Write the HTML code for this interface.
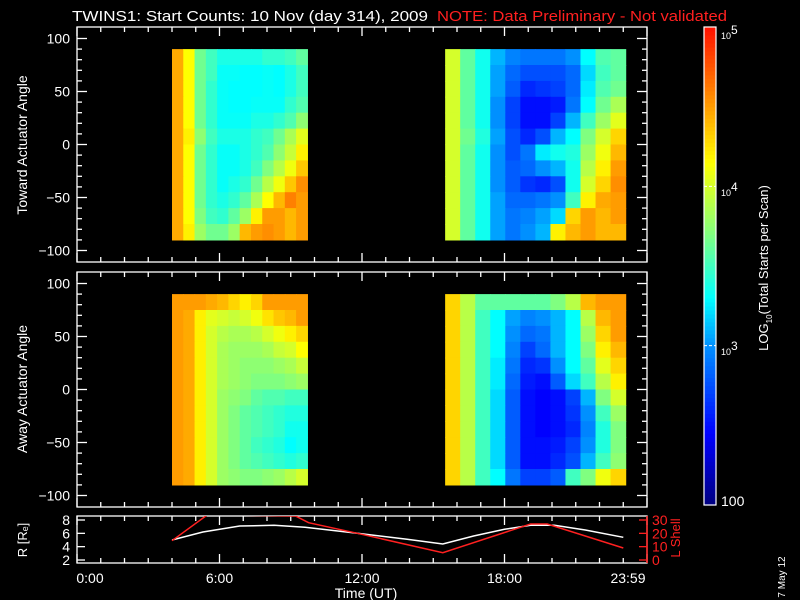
<!DOCTYPE html>
<html><head><meta charset="utf-8"><style>
html,body{margin:0;padding:0;background:#000;width:800px;height:600px;overflow:hidden}
svg{display:block;font-family:"Liberation Sans",sans-serif}
</style></head><body>
<svg id="chart" width="800" height="600" viewBox="0 0 800 600" xmlns="http://www.w3.org/2000/svg">
<rect x="0" y="0" width="800" height="600" fill="#000"/>
<text x="72" y="21" fill="#fff" font-size="14.5" textLength="356" lengthAdjust="spacingAndGlyphs">TWINS1: Start Counts: 10 Nov (day 314), 2009</text>
<text x="437" y="21" fill="#ff2020" font-size="14.5" textLength="290" lengthAdjust="spacingAndGlyphs">NOTE: Data Preliminary - Not validated</text>
<g id="layer"></g>
</svg>
<script>
// ---- data ----
const angleRows = [82.5,67.5,52.5,37.5,22.5,7.5,-7.5,-22.5,-37.5,-52.5,-67.5,-82.5];
const block1Start = 4.0, block1End = 9.7;
const block2Start = 15.5, block2End = 23.1;
const topBlock1 = [
[4.45,4.15,3.65,3.5,3.38,3.38,3.38,3.38,3.45,3.45,3.5,3.6],
[4.45,4.15,3.65,3.5,3.32,3.32,3.3,3.3,3.32,3.3,3.38,3.5],
[4.45,4.15,3.65,3.45,3.32,3.3,3.3,3.3,3.32,3.3,3.38,3.5],
[4.45,4.15,3.65,3.45,3.32,3.3,3.3,3.32,3.32,3.32,3.45,3.55],
[4.45,4.15,3.65,3.45,3.32,3.32,3.32,3.38,3.38,3.45,3.55,3.75],
[4.45,4.2,3.75,3.5,3.38,3.38,3.38,3.45,3.5,3.65,3.85,4.05],
[4.45,4.15,3.65,3.45,3.32,3.32,3.38,3.45,3.55,3.75,3.95,4.2],
[4.45,4.15,3.65,3.45,3.32,3.32,3.38,3.5,3.7,3.9,4.1,4.35],
[4.45,4.15,3.65,3.45,3.32,3.38,3.45,3.65,3.9,4.1,4.35,4.55],
[4.45,4.15,3.65,3.45,3.38,3.45,3.6,3.85,4.15,4.4,4.6,4.5],
[4.45,4.15,3.7,3.5,3.45,3.6,3.8,4.2,4.5,4.5,4.4,4.5],
[4.45,4.2,3.8,3.65,3.65,3.8,4.4,4.5,4.55,4.5,4.4,4.5]];
const topBlock2 = [
[4.0,3.6,3.35,3.1,2.95,2.9,2.9,2.9,3.0,3.3,3.55,3.6],
[4.0,3.6,3.35,3.05,2.85,2.75,2.75,2.75,2.85,3.2,3.5,3.6],
[4.0,3.6,3.35,3.05,2.8,2.6,2.65,2.7,2.85,3.25,3.55,3.65],
[4.0,3.6,3.35,3.0,2.7,2.5,2.5,2.55,2.9,3.3,3.65,3.85],
[4.0,3.6,3.35,3.0,2.7,2.5,2.5,2.7,3.1,3.5,3.8,4.05],
[4.0,3.65,3.4,3.05,2.75,2.6,2.75,3.1,3.3,3.7,4.0,4.3],
[4.0,3.6,3.35,3.0,2.75,2.9,3.25,3.35,3.4,3.8,4.1,4.4],
[4.0,3.6,3.35,3.0,2.8,2.85,3.0,3.1,3.35,3.9,4.2,4.5],
[4.0,3.6,3.35,3.0,2.8,2.65,2.6,2.75,3.35,4.0,4.3,4.55],
[4.0,3.6,3.35,3.05,2.85,2.85,2.9,3.0,3.5,4.2,4.45,4.5],
[4.0,3.6,3.35,3.05,2.9,2.95,3.05,3.2,4.3,4.5,4.4,4.5],
[4.0,3.6,3.35,3.05,2.9,3.0,3.1,4.2,4.4,4.5,4.4,4.4]];
const botBlock1 = [
[4.5,4.5,4.5,4.45,4.4,4.3,4.2,4.3,4.5,4.5,4.5,4.5],
[4.5,4.45,4.2,4.05,4.0,3.95,4.0,4.1,4.25,4.35,4.4,4.5],
[4.5,4.45,4.2,4.0,3.9,3.85,3.85,3.9,4.0,4.1,4.2,4.3],
[4.5,4.45,4.2,4.0,3.85,3.8,3.8,3.8,3.85,3.95,4.0,4.15],
[4.5,4.45,4.2,4.0,3.85,3.8,3.75,3.75,3.75,3.8,3.85,3.95],
[4.5,4.45,4.2,4.0,3.85,3.8,3.75,3.7,3.7,3.7,3.75,3.8],
[4.5,4.45,4.2,4.0,3.8,3.75,3.7,3.6,3.55,3.55,3.5,3.5],
[4.5,4.45,4.2,4.0,3.8,3.7,3.6,3.55,3.5,3.45,3.4,3.4],
[4.5,4.45,4.2,4.0,3.8,3.7,3.6,3.55,3.5,3.45,3.35,3.35],
[4.5,4.45,4.2,4.0,3.8,3.7,3.6,3.5,3.45,3.4,3.3,3.35],
[4.5,4.45,4.2,4.0,3.8,3.7,3.6,3.55,3.5,3.45,3.4,3.45],
[4.5,4.45,4.2,4.0,3.8,3.75,3.7,3.7,3.75,3.8,3.9,4.0]];
const botBlock2 = [
[4.3,3.9,3.6,3.6,3.6,3.6,3.6,3.7,3.9,4.4,4.5,4.5],
[4.3,3.9,3.5,3.3,3.05,2.95,3.0,3.1,3.3,3.9,4.4,4.5],
[4.3,3.9,3.5,3.3,3.0,2.85,2.9,3.1,3.3,3.8,4.3,4.5],
[4.3,3.9,3.5,3.3,2.95,2.7,2.85,3.1,3.3,3.7,4.2,4.4],
[4.3,3.9,3.5,3.25,2.9,2.6,2.65,3.0,3.3,3.6,4.05,4.3],
[4.3,3.9,3.5,3.25,2.85,2.55,2.5,2.8,3.2,3.5,3.9,4.2],
[4.3,3.9,3.5,3.2,2.8,2.5,2.45,2.5,2.7,3.1,3.7,4.0],
[4.3,3.9,3.5,3.2,2.8,2.5,2.45,2.5,2.65,3.0,3.5,3.8],
[4.3,3.9,3.5,3.2,2.8,2.5,2.45,2.5,2.6,2.95,3.4,3.7],
[4.3,3.9,3.5,3.2,2.8,2.5,2.5,2.55,2.7,3.0,3.4,3.7],
[4.3,3.9,3.5,3.2,2.8,2.5,2.5,2.6,2.75,3.1,3.5,3.75],
[4.3,3.9,3.5,3.3,2.9,2.7,2.7,2.8,3.5,3.7,4.1,4.3]];
const orbitTimes = [4.0,5.3,6.85,8.3,9.6,11.8,13.9,15.4,16.7,18.0,19.1,20.1,21.4,23.0];
const orbitR = [5.0,6.2,7.1,7.2,6.9,6.0,5.1,4.4,5.6,6.6,7.2,7.2,6.5,5.4];
const lshellTimes = [4.0,5.5,9.2,9.75,11.8,15.4,19.1,19.8,23.0];
const lshellValues = [14.5,34,33,28,20,5.5,27,27,9];
const angleTicks = [100,50,0,-50,-100];
const timeTickLabels = ["0:00","6:00","12:00","18:00","23:59"];
const timeTickHours = [0,6,12,18,24];
const rTicks = [2,4,6,8];
const lTicks = [0,10,20,30];

// ---- helpers ----
const NS = "http://www.w3.org/2000/svg";
const layer = document.getElementById("layer");
function mk(tag, attrs, parent){ const e=document.createElementNS(NS,tag); for(const k in attrs) e.setAttribute(k,attrs[k]); (parent||layer).appendChild(e); return e; }
const X0=77, X1=647;
function xScale(h){ return X0 + (X1-X0)*h/24; }
function yAngle(panelTop, a){ return panelTop + 11.5 + (100-a)*(212/200); }
const stops=[[2.0,[0,0,127]],[2.45,[0,0,255]],[3.0,[0,144,255]],[3.3,[0,255,255]],[3.7,[128,255,128]],[4.15,[255,255,0]],[4.6,[255,128,0]],[5.0,[255,16,0]]];
function cmap(v){ if(v<=stops[0][0]) return "rgb("+stops[0][1]+")"; for(let i=1;i<stops.length;i++){ if(v<=stops[i][0]){ const a=stops[i-1],b=stops[i],t=(v-a[0])/(b[0]-a[0]); const c=a[1].map((x,j)=>Math.round(x+(b[1][j]-x)*t)); return "rgb("+c.join(",")+")"; } } return "rgb(255,16,0)"; }

function drawBlock(grid, t0, t1, panelTop, name){
  const g = mk("g",{});
  
  
  const ncol = grid[0].length, dt=(t1-t0)/ncol;
  grid.forEach((row,ri)=>{
    const a = angleRows[ri];
    const ya = yAngle(panelTop, a+7.5), yb = yAngle(panelTop, a-7.5);
    row.forEach((v,ci)=>{
      const xa = xScale(t0+ci*dt), xb = xScale(t0+(ci+1)*dt);
      const r = mk("rect",{x:xa.toFixed(2),y:ya.toFixed(2),width:(xb-xa+0.6).toFixed(2),height:(yb-ya+0.6).toFixed(2),fill:cmap(v)},g);
      
      
    });
  });
}

function drawAxes(top, bottom, name){
  const g = mk("g",{stroke:"#fff","stroke-width":1.3,fill:"none"});
  
  
  mk("rect",{x:X0,y:top,width:X1-X0,height:bottom-top},g);
  for(let h=0;h<=24;h++){ const x=xScale(h), L=(h%6===0)?9:5; mk("line",{x1:x,y1:bottom,x2:x,y2:bottom-L},g); mk("line",{x1:x,y1:top,x2:x,y2:top+L},g); }
  return g;
}
function drawAngleAxis(top, bottom, name){
  const g = drawAxes(top,bottom,name);
  for(let a=-100;a<=100;a+=10){ const y=yAngle(top,a), L=(a%50===0)?10:5; mk("line",{x1:X0,y1:y,x2:X0+L,y2:y},g); mk("line",{x1:X1,y1:y,x2:X1-L,y2:y},g); }
  angleTicks.forEach(a=>{ const t=mk("text",{x:70,y:yAngle(top,a)+5,fill:"#fff","font-size":14,"text-anchor":"end",stroke:"none"}); t.textContent=(a<0?"\u2212"+(-a):a);   });
}

// ---- heatmaps ----
const TOP1=27, BOT1=262, TOP2=272, BOT2=507;
drawBlock(topBlock1, block1Start, block1End, TOP1, "toward-block-1");
drawBlock(topBlock2, block2Start, block2End, TOP1, "toward-block-2");
drawBlock(botBlock1, block1Start, block1End, TOP2, "away-block-1");
drawBlock(botBlock2, block2Start, block2End, TOP2, "away-block-2");
drawAngleAxis(TOP1,BOT1,"toward-panel-axes");
drawAngleAxis(TOP2,BOT2,"away-panel-axes");

// ---- orbit panel ----
const PT=516, PB=563;
function yR(r){ return 560 - (r-2)*(40/6); }
function yL(l){ return 560 - l*(40/30); }
const og = drawAxes(PT,PB,"orbit-panel-axes");
rTicks.forEach(r=>{ const y=yR(r); mk("line",{x1:X0,y1:y,x2:X0+8,y2:y},og); const t=mk("text",{x:70,y:y+5,fill:"#fff","font-size":14,"text-anchor":"end",stroke:"none"}); t.textContent=r;   });
lTicks.forEach(l=>{ const y=yL(l); mk("line",{x1:X1,y1:y,x2:X1-8,y2:y,stroke:"#ff2020"},og); const t=mk("text",{x:652,y:y+5,fill:"#ff2020","font-size":14,stroke:"none"}); t.textContent=l;   });
mk("line",{x1:X1,y1:PT,x2:X1,y2:PB,stroke:"#ff2020","stroke-width":1.5});
const defs = mk("defs",{}); const cp = mk("clipPath",{id:"orbclip"},defs); mk("rect",{x:X0,y:PT,width:X1-X0,height:PB-PT},cp);
const rPath = mk("polyline",{points:orbitTimes.map((t,i)=>xScale(t).toFixed(1)+","+yR(orbitR[i]).toFixed(1)).join(" "),fill:"none",stroke:"#fff","stroke-width":1.5,"clip-path":"url(#orbclip)"});


const lPath = mk("polyline",{points:lshellTimes.map((t,i)=>xScale(t).toFixed(1)+","+yL(lshellValues[i]).toFixed(1)).join(" "),fill:"none",stroke:"#ff2020","stroke-width":1.5,"clip-path":"url(#orbclip)"});



timeTickLabels.forEach((s,i)=>{ const t=mk("text",{x:xScale(timeTickHours[i])+(i===0?13:i===4?-19:0),y:583,fill:"#fff","font-size":14,"text-anchor":"middle"}); t.textContent=s;   });

const svg=document.getElementById("chart");
function addText(attrs,content){ const t=document.createElementNS(NS,"text"); for(const k in attrs) t.setAttribute(k,attrs[k]); t.textContent=content; svg.appendChild(t); return t; }
let tt;
tt=addText({x:366,y:598,fill:"#fff","font-size":14,"text-anchor":"middle"},"Time (UT)");


tt=addText({transform:"translate(27,145) rotate(-90)",fill:"#fff","font-size":14,"text-anchor":"middle"},"Toward Actuator Angle");


tt=addText({transform:"translate(27,389) rotate(-90)",fill:"#fff","font-size":14,"text-anchor":"middle"},"Away Actuator Angle");


tt=addText({transform:"translate(27,540) rotate(-90)",fill:"#fff","font-size":13,"text-anchor":"middle"},"R [R\u2091]");


tt=addText({transform:"translate(680,538) rotate(-90)",fill:"#ff2020","font-size":13,"text-anchor":"middle"},"L Shell");


tt=addText({transform:"translate(785,577) rotate(-90)",fill:"#fff","font-size":10,"text-anchor":"middle"},"7 May 12");


// colorbar
const cbTop=27, cbBot=505, cbX=704, cbW=12;
const cbg=document.createElementNS(NS,"g"); svg.appendChild(cbg);


for(let i=0;i<120;i++){ const v=2+3*(i+0.5)/120; const y=cbBot-(cbBot-cbTop)*(i+1)/120; const r=document.createElementNS(NS,"rect"); r.setAttribute("x",cbX); r.setAttribute("y",y.toFixed(2)); r.setAttribute("width",cbW); r.setAttribute("height",((cbBot-cbTop)/120+0.6).toFixed(2)); r.setAttribute("fill",cmap(v)); cbg.appendChild(r); }
const cbFrame=document.createElementNS(NS,"rect"); cbFrame.setAttribute("x",cbX); cbFrame.setAttribute("y",cbTop); cbFrame.setAttribute("width",cbW); cbFrame.setAttribute("height",cbBot-cbTop); cbFrame.setAttribute("fill","none"); cbFrame.setAttribute("stroke","#fff"); cbFrame.setAttribute("stroke-width","1.2"); cbg.appendChild(cbFrame);
[3,4].forEach(d=>{ const y=cbBot-(cbBot-cbTop)*(d-2)/3; const l=document.createElementNS(NS,"line"); l.setAttribute("x1",cbX); l.setAttribute("x2",cbX+cbW); l.setAttribute("y1",y); l.setAttribute("y2",y); l.setAttribute("stroke","#fff"); l.setAttribute("stroke-dasharray","3,2"); cbg.appendChild(l); });
function cbLabel(exp,y){ const t=document.createElementNS(NS,"text"); t.setAttribute("x",721); t.setAttribute("y",y); t.setAttribute("fill","#fff"); t.setAttribute("font-size","9"); t.textContent="10"; const s=document.createElementNS(NS,"tspan"); s.setAttribute("dy","-5"); s.setAttribute("font-size","12"); s.textContent=exp; t.appendChild(s); svg.appendChild(t);
 
  }
cbLabel("5",39); cbLabel("4",196); cbLabel("3",355);
tt=addText({x:721,y:506,fill:"#fff","font-size":14},"100");


tt=addText({transform:"translate(768,268) rotate(-90)",fill:"#fff","font-size":13,"text-anchor":"middle"},"");
tt.innerHTML='LOG<tspan font-size="8" dy="4">10</tspan><tspan dy="-4">(Total Starts per Scan)</tspan>';


</script>
</body></html>
